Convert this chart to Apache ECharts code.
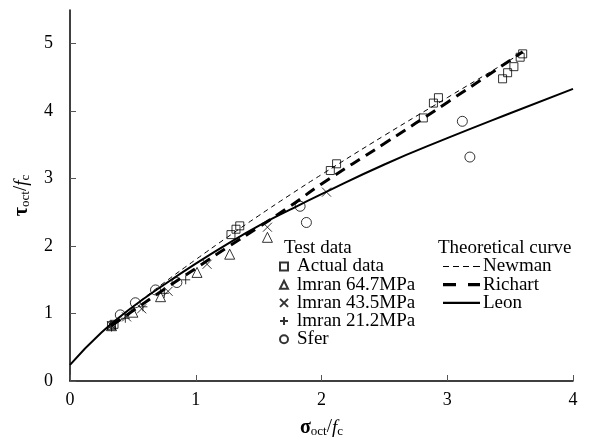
<!DOCTYPE html>
<html><head><meta charset="utf-8">
<script src="https://cdn.jsdelivr.net/npm/echarts@6/dist/echarts.min.js"></script>
<style>html,body{margin:0;padding:0;background:#fff}#c{width:589px;height:442px}</style>
</head><body><div id="c"></div>
<script>
// Test data (x = sigma_oct/fc, y = tau_oct/fc)
const actualX = [0.33, 0.35, 1.28, 1.32, 1.35, 2.07, 2.12, 2.81, 2.89, 2.93, 3.44, 3.48, 3.53, 3.58, 3.60];
const actualY = [0.82, 0.84, 2.17, 2.25, 2.30, 3.12, 3.22, 3.90, 4.12, 4.20, 4.48, 4.57, 4.66, 4.80, 4.85];
const imran647X = [0.33, 0.50, 0.72, 1.01, 1.27, 1.57];
const imran647Y = [0.82, 1.02, 1.25, 1.61, 1.88, 2.13];
const imran435X = [0.33, 0.45, 0.57, 0.78, 1.09, 1.57, 2.04];
const imran435Y = [0.82, 0.95, 1.07, 1.33, 1.73, 2.28, 2.80];
const imran212X = [0.33, 0.44, 0.58, 0.75, 0.92];
const imran212Y = [0.80, 0.93, 1.10, 1.30, 1.50];
const sferX = [0.40, 0.52, 0.68, 0.85, 1.83, 1.88, 3.12, 3.18];
const sferY = [0.98, 1.16, 1.35, 1.46, 2.59, 2.35, 3.85, 3.32];
// Theoretical curves
const newmanX = [0.33, 0.5, 0.75, 1.0, 1.25, 1.5, 1.75, 2.0, 2.5, 3.0, 3.6];
const newmanY = [0.84, 1.10, 1.46, 1.80, 2.13, 2.45, 2.76, 3.06, 3.64, 4.20, 4.87];
const richartX = [0.33, 0.5, 0.75, 1.0, 1.25, 1.5, 1.75, 2.0, 2.5, 3.0, 3.6];
const richartY = [0.82, 1.04, 1.36, 1.67, 1.98, 2.28, 2.59, 2.92, 3.52, 4.13, 4.88];
const leonX = [0, 0.25, 0.5, 0.75, 1.0, 1.25, 1.5, 1.75, 2.0, 2.5, 3.0, 3.5, 4.0];
const leonY = [0.24, 0.72, 1.10, 1.43, 1.74, 2.03, 2.30, 2.54, 2.77, 3.21, 3.60, 3.97, 4.33];
const xTicks = [0, 1, 2, 3, 4];
const yTicks = [0, 1, 2, 3, 4, 5];

const zip = (xs, ys) => xs.map((x, i) => [x, ys[i]]);
const FONT = '"Liberation Serif", "Times New Roman", serif';
const crossPath = 'path://M0,0L10,10M10,0L0,10';
const plusPath = 'path://M5,0L5,10M0,5L10,5';
// legend swatches for the theoretical curves
const newmanIcon = 'path://M0,0h6v1.2h-6z M10,0h6v1.2h-6z M20,0h6v1.2h-6z M30,0h7v1.2h-7z';
const richartIcon = 'path://M0,0h13v3.2h-13z M25,0h12v3.2h-12z';
const leonIcon = 'path://M0,0h37v2.2h-37z';

function scatter(name, xs, ys, symbol, size) {
  return {
    name, type: 'scatter', data: zip(xs, ys), symbol, symbolSize: size,
    itemStyle: { color: 'rgba(0,0,0,0)', borderColor: '#000', borderWidth: 1 },
    z: 3
  };
}
function line(name, xs, ys, width, type) {
  return {
    name, type: 'line', data: zip(xs, ys), showSymbol: false, symbol: 'none', smooth: true,
    lineStyle: { color: '#000', width, type }, itemStyle: { color: '#000' }, z: 2
  };
}

const chart = echarts.init(document.getElementById('c'), null, { renderer: 'canvas' });
chart.setOption({
  animation: false,
  textStyle: { fontFamily: FONT, color: '#000' },
  grid: { left: 70, right: 16, top: 10, bottom: 61, containLabel: false, outerBoundsMode: 'none' },
  xAxis: {
    type: 'value', min: 0, max: 4, interval: 1,
    axisLine: { lineStyle: { color: '#000', width: 1.5 } },
    axisTick: { inside: true, length: 6, lineStyle: { color: '#555' }, customValues: xTicks },
    axisLabel: { fontFamily: FONT, fontSize: 18, color: '#000', margin: 10, customValues: xTicks },
    splitLine: { show: false },
    name: '{g|σ}{s|oct}{n|/}{f|f}{s|c}', nameLocation: 'middle', nameGap: 36,
    nameTextStyle: {
      rich: {
        g: { fontFamily: FONT, fontSize: 20, fontWeight: 'bold', color: '#000' },
        n: { fontFamily: FONT, fontSize: 19, color: '#000' },
        f: { fontFamily: FONT, fontSize: 19, fontStyle: 'italic', color: '#000' },
        s: { fontFamily: FONT, fontSize: 13, color: '#000', padding: [8, 0, 0, 0] }
      }
    }
  },
  yAxis: {
    type: 'value', min: 0, max: 5.5, interval: 1,
    axisLine: { lineStyle: { color: '#000', width: 1.5 } },
    axisTick: { inside: true, length: 6, lineStyle: { color: '#555' }, customValues: yTicks },
    axisLabel: { fontFamily: FONT, fontSize: 18, color: '#000', margin: 17, customValues: yTicks },
    splitLine: { show: false },
    name: '{g|τ}{s|oct}{n|/}{f|f}{s|c}', nameLocation: 'middle', nameGap: 38, nameRotate: 90,
    nameTextStyle: {
      rich: {
        g: { fontFamily: FONT, fontSize: 20, fontWeight: 'bold', color: '#000' },
        n: { fontFamily: FONT, fontSize: 19, color: '#000' },
        f: { fontFamily: FONT, fontSize: 19, fontStyle: 'italic', color: '#000' },
        s: { fontFamily: FONT, fontSize: 13, color: '#000', padding: [8, 0, 0, 0] }
      }
    }
  },
  legend: [
    {
      data: ['Actual data', 'lmran 64.7MPa', 'lmran 43.5MPa', 'lmran 21.2MPa', 'Sfer'],
      orient: 'vertical', left: 279, top: 257, itemWidth: 8, itemHeight: 8, itemGap: -0.8,
      textStyle: { fontFamily: FONT, fontSize: 19, lineHeight: 17, color: '#000', padding: [0, 0, 0, 4] }, padding: 0
    },
    {
      data: [{ name: 'Newman', icon: newmanIcon }, { name: 'Richart', icon: richartIcon }, { name: 'Leon', icon: leonIcon }],
      orient: 'vertical', left: 443, top: 257, itemWidth: 37, itemHeight: 14, itemGap: -0.8, symbolKeepAspect: true,
      itemStyle: { color: '#000', borderWidth: 0 },
      textStyle: { fontFamily: FONT, fontSize: 19, lineHeight: 17, color: '#000', padding: [0, 0, 0, -2] }, padding: 0
    }
  ],
  graphic: [
    { type: 'text', left: 284, top: 239, style: { text: 'Test data', font: '19px ' + FONT, fill: '#000' } },
    { type: 'text', left: 438, top: 239, style: { text: 'Theoretical curve', font: '19px ' + FONT, fill: '#000' } }
  ],
  series: [
    scatter('Actual data', actualX, actualY, 'rect', 8),
    scatter('lmran 64.7MPa', imran647X, imran647Y, 'triangle', 10),
    scatter('lmran 43.5MPa', imran435X, imran435Y, crossPath, 9),
    scatter('lmran 21.2MPa', imran212X, imran212Y, plusPath, 9),
    scatter('Sfer', sferX, sferY, 'circle', 10),
    line('Newman', newmanX, newmanY, 1, [5, 4]),
    line('Richart', richartX, richartY, 3, [11, 7]),
    line('Leon', leonX, leonY, 2, 'solid')
  ]
});
</script></body></html>
